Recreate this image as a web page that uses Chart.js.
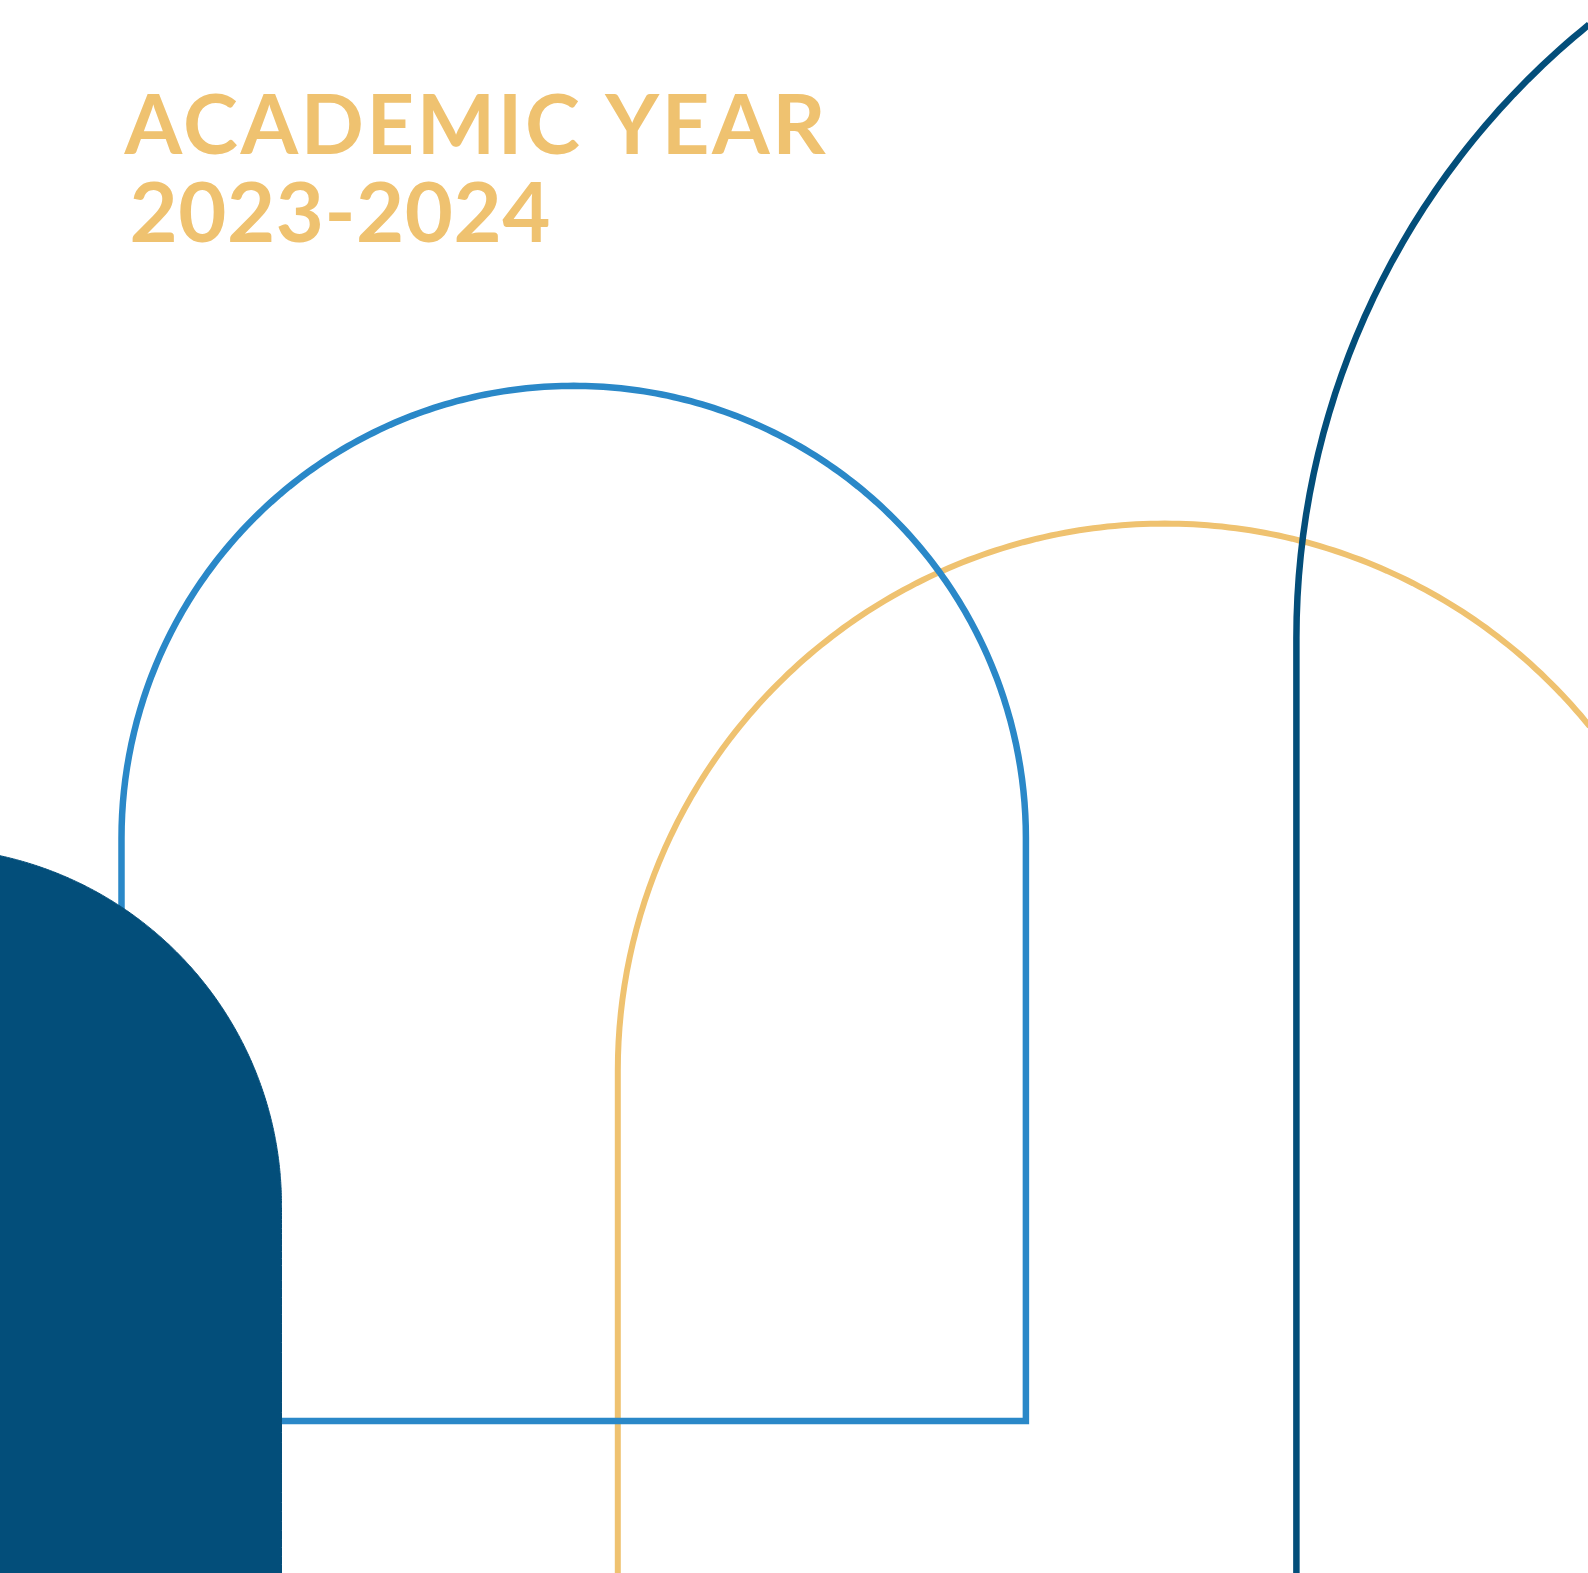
<!DOCTYPE html>
<html>
<head>
<meta charset="utf-8">
<title>Academic Year 2023-2024</title>
<script src="https://cdn.jsdelivr.net/npm/chart.js@4.4.0/dist/chart.umd.min.js"></script>
<style>
    html, body { margin: 0; padding: 0; background: #ffffff; }
    #wrap { width: 1588px; height: 1573px; position: relative; }
</style>
</head>
<body>
<div id="wrap"><canvas id="archChart"></canvas></div>
<script>
// title lines
const titleLines = ['ACADEMIC YEAR', '2023-2024'];

// arch shapes (page units, y grows downward)
const archNames   = ['Navy block', 'Navy arch', 'Blue arch', 'Gold arch'];
const archCenterX = [-76, 2085.8, 573.7, 1164.7];
const archSpringY = [1205, 638, 838, 1070.5];
const archRadius  = [357.5, 789.4, 452.2, 546.9];
const archBaseY   = [1640, 1640, 1421, 1640];
const archClosed  = [true, false, true, false];

const GOLD = '#efc270';
const BLUE = '#2a88c8';
const NAVY = '#034e7a';

const archStyles = [
    { borderColor: NAVY, backgroundColor: NAVY, borderWidth: 1, fill: 'shape' },
    { borderColor: NAVY, borderWidth: 6.5, fill: false },
    { borderColor: BLUE, borderWidth: 6.5, fill: false },
    { borderColor: GOLD, borderWidth: 6, fill: false }
];

// outline of one arch: left leg up, half circle over the top, right leg down
function archOutline(i) {
    const cx = archCenterX[i], sy = archSpringY[i], r = archRadius[i], by = archBaseY[i];
    const pts = [{ x: cx - r, y: by }];
    const steps = 120;
    for (let s = 0; s <= steps; s++) {
        const t = Math.PI - Math.PI * s / steps;
        pts.push({ x: cx + r * Math.cos(t), y: sy - r * Math.sin(t) });
    }
    pts.push({ x: cx + r, y: by });
    if (archClosed[i]) pts.push({ x: cx - r, y: by });
    return pts;
}

const titlePlugin = {
    id: 'yearTitle',
    afterDraw(chart) {
        const ctx = chart.ctx;
        const lefts = [124.5, 129.5];
        const baselines = [154, 242];
        const widths = [701, 421];
        ctx.save();
        ctx.fillStyle = GOLD;
        ctx.font = '700 83px Lato';
        ctx.textBaseline = 'alphabetic';
        titleLines.forEach((line, i) => {
            ctx.letterSpacing = '0px';
            const w0 = ctx.measureText(line).width;
            const ls = (widths[i] - w0) / (line.length - 1);
            ctx.letterSpacing = ls.toFixed(1) + 'px';
            ctx.fillText(line, lefts[i], baselines[i]);
        });
        ctx.restore();
    }
};

new Chart(document.getElementById('archChart'), {
    type: 'scatter',
    data: {
        datasets: archNames.map((name, i) => ({
            label: name,
            data: archOutline(i),
            showLine: true,
            pointRadius: 0,
            // a tiny tension keeps Chart.js off its fast path, which breaks on non-monotonic x
            tension: 0.0001,
            capBezierPoints: false,
            ...archStyles[i]
        }))
    },
    options: {
        responsive: true,
        maintainAspectRatio: false,
        animation: false,
        layout: { padding: 0 },
        plugins: {
            legend: { display: false },
            tooltip: { enabled: false }
        },
        scales: {
            x: { type: 'linear', min: 0, max: 1588, display: false },
            y: { type: 'linear', min: 0, max: 1573, reverse: true, display: false }
        }
    },
    plugins: [titlePlugin]
});
</script>
</body>
</html>
